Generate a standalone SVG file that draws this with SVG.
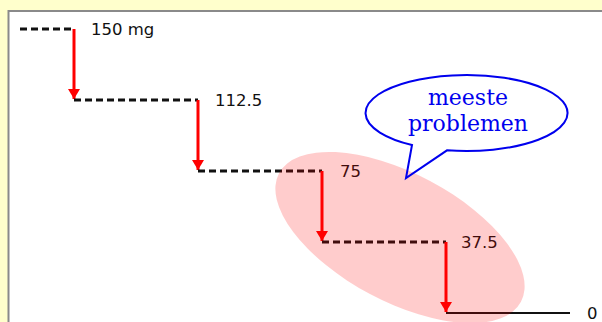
<svg xmlns="http://www.w3.org/2000/svg" width="602" height="322" viewBox="0 0 602 322">
<style>
.dash{stroke:#111;stroke-width:3;stroke-dasharray:7 4;fill:none}
.arr{stroke:#f00;stroke-width:3;fill:none}
.lbl{font-family:"DejaVu Sans",Verdana,sans-serif;font-size:16.5px;fill:#111}
.bub{font-family:"DejaVu Serif","Liberation Serif",serif;font-size:22px;fill:#0000ee;text-anchor:middle}
</style>
<defs>
<marker id="ah" viewBox="0 0 10 12" refX="10" refY="6" markerWidth="10" markerHeight="12" markerUnits="userSpaceOnUse" orient="auto">
<path d="M0,0 L10,6 L0,12 Z" fill="#f00"/>
</marker>
</defs>
<rect x="0" y="0" width="602" height="322" fill="#ffffcc"/>
<rect x="8.5" y="11" width="600" height="320" fill="#fff" stroke="#8a8a8a" stroke-width="2"/>
<g id="connectors">
<line class="dash" x1="20" y1="29" x2="74" y2="29"/>
<line class="arr" x1="74" y1="29" x2="74" y2="99" marker-end="url(#ah)"/>
<line class="dash" x1="74" y1="100" x2="198" y2="100"/>
<line class="arr" x1="198" y1="100" x2="198" y2="170" marker-end="url(#ah)"/>
<line class="dash" x1="198" y1="171" x2="322" y2="171"/>
<line class="arr" x1="322" y1="171" x2="322" y2="241" marker-end="url(#ah)"/>
<line class="dash" x1="322" y1="242" x2="446" y2="242"/>
<line class="arr" x1="446" y1="242" x2="446" y2="312" marker-end="url(#ah)"/>
<line x1="446" y1="313" x2="570" y2="313" stroke="#111" stroke-width="2"/>
</g>
<g id="labels">
<text class="lbl" x="91" y="35">150 mg</text>
<text class="lbl" x="215" y="106">112.5</text>
<text class="lbl" x="340" y="177">75</text>
<text class="lbl" x="461" y="248">37.5</text>
<text class="lbl" x="587" y="319">0</text>
</g>
<g id="highlight">
<ellipse cx="400" cy="237.5" rx="137" ry="64" transform="rotate(28 400 237.5)" fill="#f00" fill-opacity="0.2"/>
</g>
<g id="bubble">
<path d="M412,145 L406,178 L447,150.3 A101,38 0 1 0 412,145 Z" fill="none" stroke="#0000ee" stroke-width="2"/>
<text class="bub" x="468" y="105">meeste</text>
<text class="bub" x="468" y="131">problemen</text>
</g>
</svg>
